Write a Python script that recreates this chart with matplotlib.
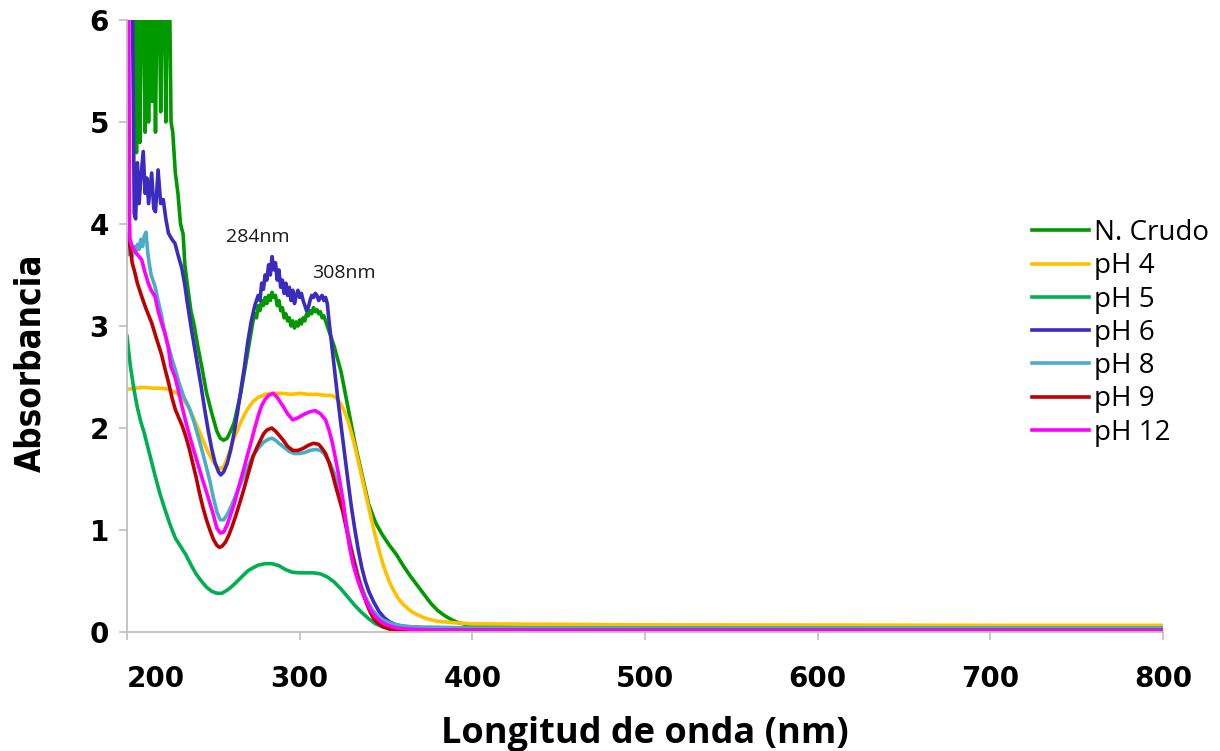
import matplotlib
matplotlib.use("Agg")
import matplotlib.pyplot as plt
import matplotlib.transforms as mtransforms

# Absorbance spectra (wavelength in nm, absorbance)
wl_crudo = [200, 204.5, 205.5, 206.5, 207.5, 208.5, 209.5, 210.5, 211.5, 212.5, 213.5, 214.5, 215.5,
            216.5, 217.5, 218.5, 219.5, 220.5, 221.5, 222.5, 223.5, 224.5, 225.5, 226.5, 228, 229.5,
            231, 232.5, 233.5, 235, 237, 239, 241, 243.3, 246, 249, 252, 254, 256, 258, 260, 262,
            264, 266, 268, 270, 272, 273, 274, 275, 276, 277, 278, 279, 280, 281, 282, 283, 284,
            285, 286, 287, 288, 289, 290, 291, 292, 293, 294, 295, 296, 297, 298, 299, 300, 301,
            302, 303, 304, 305, 306, 307, 308, 309, 310, 311, 312, 313, 314, 315, 316, 318, 320,
            324, 328, 332, 336, 340, 344, 348, 352, 356, 360, 364, 368, 372, 376, 380, 384, 388,
            392, 396, 400, 450, 500, 600, 700, 800]
abs_crudo = [6.5, 6.5, 4.7, 6.5, 4.8, 6.5, 6.5, 4.9, 6.5, 5.0, 6.5, 5.2, 6.5,
             4.9, 6.5, 6.5, 5.1, 6.5, 6.5, 5.0, 6.5, 6.5, 5.0, 4.9, 4.5, 4.3,
             4.0, 3.9, 3.6, 3.4, 3.15, 3.0, 2.8, 2.6, 2.35, 2.15, 1.97, 1.9, 1.88, 1.9, 1.97, 2.05,
             2.2, 2.35, 2.55, 2.75, 2.95, 3.05, 3.12, 3.08, 3.2, 3.15, 3.25, 3.2, 3.28, 3.22, 3.3, 3.25, 3.33,
             3.28, 3.3, 3.2, 3.25, 3.15, 3.18, 3.08, 3.12, 3.05, 3.08, 3.0, 3.05, 2.98, 3.04, 3.0, 3.06, 3.02,
             3.08, 3.05, 3.12, 3.1, 3.15, 3.12, 3.18, 3.14, 3.16, 3.12, 3.14, 3.08, 3.1, 3.05, 3.0, 2.9, 2.8,
             2.55, 2.2, 1.85, 1.55, 1.25, 1.07, 0.95, 0.85, 0.76, 0.65, 0.55, 0.46, 0.37, 0.28, 0.21, 0.16, 0.12,
             0.09, 0.075, 0.07, 0.06, 0.055, 0.05, 0.05, 0.05]

wl_ph4 = [200, 205, 210, 215, 220, 224, 228, 232, 235, 238, 241, 244, 247, 250, 252, 254, 256, 258,
          260, 262, 264, 266, 268, 270, 273, 276, 280, 285, 290, 295, 300, 305, 310, 315, 318, 320,
          322, 324, 326, 328, 330, 332, 334, 336, 338, 340, 342, 344, 346, 348, 350, 352, 354, 357,
          360, 364, 368, 372, 376, 380, 390, 400, 450, 500, 600, 700, 800]
abs_ph4 = [2.38, 2.39, 2.40, 2.39, 2.39, 2.38, 2.35, 2.30, 2.22, 2.12, 2.0, 1.88, 1.76, 1.67, 1.62, 1.60, 1.62, 1.7,
           1.8, 1.9, 1.98, 2.06, 2.13, 2.19, 2.26, 2.3, 2.33, 2.34, 2.34, 2.33, 2.34, 2.33, 2.33, 2.32, 2.32, 2.31,
           2.28, 2.23, 2.16, 2.07, 1.95, 1.82, 1.67, 1.52, 1.37, 1.22, 1.07, 0.93, 0.80, 0.68, 0.58, 0.49, 0.42, 0.33,
           0.27, 0.21, 0.17, 0.14, 0.12, 0.105, 0.09, 0.08, 0.075, 0.07, 0.068, 0.065, 0.065]

wl_ph5 = [200, 202, 204, 206, 208, 210, 213, 216, 219, 222, 225, 228, 231, 234, 237, 240, 243, 246, 249,
          252, 255, 258, 261, 264, 267, 270, 273, 276, 280, 284, 288, 292, 296, 300, 304, 308, 312, 316,
          320, 324, 328, 332, 336, 340, 344, 348, 352, 356, 360, 370, 400, 800]
abs_ph5 = [2.90, 2.6, 2.38, 2.2, 2.06, 1.95, 1.75, 1.55, 1.36, 1.2, 1.05, 0.92, 0.84, 0.76, 0.66, 0.57, 0.5, 0.44, 0.40,
           0.38, 0.38, 0.41, 0.45, 0.5, 0.55, 0.6, 0.63, 0.655, 0.67, 0.67, 0.65, 0.61, 0.585, 0.58, 0.58, 0.58, 0.57, 0.54,
           0.49, 0.42, 0.34, 0.26, 0.19, 0.13, 0.08, 0.05, 0.03, 0.015, 0.008, 0.006, 0.006, 0.006]

wl_ph6 = [200, 203, 204.2, 205, 206, 207, 208, 209.4, 210.5, 211.5, 212.5, 214.3, 215.5, 216.5, 218, 219.5,
          221, 222.5, 224, 226, 227.8, 229.5, 231.7, 233.5, 235, 237, 239, 241, 243, 245, 247, 249, 251,
          253, 254.3, 256, 258, 260, 262, 264, 266, 268, 270, 272, 274, 276, 277, 278, 279, 280, 281, 282,
          283, 284, 285, 286, 287, 288, 289, 290, 291, 292, 293, 294, 295, 296, 297, 298, 299, 300, 301,
          302, 303, 304, 305, 306, 307, 308, 309, 310, 311, 312, 313, 314, 315, 316, 317, 318, 320, 322,
          324, 326, 328, 330, 332, 334, 336, 338, 340, 343, 346, 349, 352, 356, 360, 370, 400, 800]
abs_ph6 = [6.5, 6.5, 4.1, 4.05, 4.6, 4.2, 4.45, 4.71, 4.3, 4.45, 4.2, 4.5, 4.15, 4.12, 4.53, 4.2,
           4.24, 4.05, 3.91, 3.85, 3.81, 3.7, 3.57, 3.4, 3.22, 3.0, 2.8, 2.6, 2.4, 2.18, 1.98, 1.8, 1.66,
           1.57, 1.54, 1.57, 1.65, 1.78, 1.95, 2.15, 2.38, 2.6, 2.85, 3.05, 3.2, 3.3, 3.25, 3.42, 3.36, 3.5, 3.45, 3.6,
           3.5, 3.68, 3.55, 3.62, 3.45, 3.55, 3.38, 3.45, 3.32, 3.42, 3.3, 3.38, 3.25, 3.35, 3.22, 3.3, 3.35, 3.28, 3.32,
           3.25, 3.2, 3.15, 3.18, 3.25, 3.3, 3.28, 3.32, 3.3, 3.25, 3.28, 3.3, 3.25, 3.28, 3.22, 3.05, 2.9, 2.6, 2.3,
           2.02, 1.75, 1.48, 1.22, 1.0, 0.8, 0.63, 0.5, 0.4, 0.29, 0.2, 0.14, 0.1, 0.07, 0.055, 0.045, 0.04, 0.035]

wl_ph8 = [200, 201, 202, 203, 204, 205, 206, 207, 208, 209, 210, 211, 212, 213, 214, 216.2, 218, 220,
          222, 224, 226, 228, 230, 233, 236, 239, 242, 245, 248, 250, 252, 254, 256, 258, 260, 262, 264,
          267, 270, 273, 276, 279, 282, 284, 286, 288, 291, 294, 297, 300, 303, 306, 309, 312, 314, 316,
          318, 320, 322, 324, 326, 328, 330, 332, 334, 336, 338, 340, 342, 345, 348, 352, 356, 362, 370,
          400, 800]
abs_ph8 = [3.75, 3.7, 3.85, 3.68, 3.78, 3.72, 3.8, 3.75, 3.85, 3.78, 3.88, 3.92, 3.72, 3.6, 3.5, 3.39, 3.25, 3.1,
           2.92, 2.8, 2.68, 2.57, 2.45, 2.3, 2.2, 2.05, 1.87, 1.68, 1.48, 1.32, 1.18, 1.1, 1.1, 1.15, 1.22, 1.3, 1.38,
           1.5, 1.62, 1.73, 1.8, 1.86, 1.89, 1.9, 1.88, 1.85, 1.81, 1.77, 1.75, 1.75, 1.76, 1.78, 1.79, 1.78, 1.75, 1.7,
           1.64, 1.56, 1.45, 1.32, 1.16, 0.98, 0.82, 0.68, 0.55, 0.44, 0.35, 0.28, 0.22, 0.16, 0.12, 0.09, 0.07, 0.055, 0.045,
           0.04, 0.04]

wl_ph9 = [200, 201, 202, 203, 204.6, 206, 208.5, 211, 214.3, 217, 220, 222, 224, 226, 228, 230, 232, 234,
          236, 238, 240, 242, 244, 246, 248, 250, 252, 253.5, 255, 257, 259, 261, 263, 265, 267, 269, 271,
          273, 275, 277, 279, 281, 283.8, 286, 288, 290.5, 293, 296, 299, 302, 305, 308, 311, 313, 315,
          317, 319, 321, 323, 325, 327, 329, 331, 333, 335, 337, 339, 341, 343, 345, 348, 352, 358, 370, 800]
abs_ph9 = [3.9, 3.85, 3.75, 3.62, 3.52, 3.42, 3.29, 3.17, 3.03, 2.88, 2.72, 2.58, 2.45, 2.3, 2.18, 2.1, 2.02, 1.92,
           1.8, 1.66, 1.52, 1.36, 1.22, 1.1, 1.0, 0.91, 0.85, 0.83, 0.84, 0.88, 0.95, 1.04, 1.14, 1.25, 1.36, 1.48, 1.6,
           1.72, 1.8, 1.87, 1.94, 1.98, 2.0, 1.97, 1.93, 1.88, 1.82, 1.78, 1.78, 1.8, 1.83, 1.85, 1.84, 1.8, 1.75,
           1.66, 1.55, 1.42, 1.3, 1.18, 1.02, 0.86, 0.72, 0.58, 0.46, 0.36, 0.27, 0.19, 0.13, 0.09, 0.055, 0.03, 0.018, 0.016, 0.016]

wl_ph12 = [200, 201, 201.4, 201.7, 203, 205, 207, 208.5, 210, 212.3, 214, 216.2, 218, 220, 222, 224,
           225.5, 227.8, 230, 232, 235, 238, 241, 244, 247, 250, 252, 254, 256, 258, 260, 262, 264, 266,
           268, 270, 272, 274, 276, 278, 280, 282, 284.7, 287, 290.5, 293, 296, 299, 302, 306, 309, 312,
           315, 317, 319, 321, 323, 325, 327, 329, 331, 333, 335, 337, 339, 341, 343, 345, 348, 352, 356,
           362, 375, 400, 800]
abs_ph12 = [6.5, 6.5, 4.1, 3.84, 3.78, 3.72, 3.68, 3.65, 3.55, 3.42, 3.35, 3.29, 3.15, 3.03, 2.93, 2.78,
            2.6, 2.5, 2.35, 2.2, 2.0, 1.82, 1.65, 1.48, 1.32, 1.15, 1.02, 0.97, 0.98, 1.05, 1.15, 1.25, 1.38, 1.5,
            1.62, 1.75, 1.87, 2.0, 2.12, 2.22, 2.28, 2.32, 2.34, 2.3, 2.21, 2.14, 2.08, 2.1, 2.13, 2.16, 2.17, 2.14,
            2.08, 1.98, 1.85, 1.68, 1.5, 1.3, 1.05, 0.82, 0.66, 0.54, 0.44, 0.36, 0.29, 0.22, 0.17, 0.13, 0.09, 0.06, 0.04,
            0.03, 0.02, 0.015, 0.012]

series_labels = ["N. Crudo", "pH 4", "pH 5", "pH 6", "pH 8", "pH 9", "pH 12"]
series_colors = ["#009900", "#FFC000", "#00B050", "#3B2BBF", "#4BACC6", "#C00000", "#FF00FF"]
series_wl = [wl_crudo, wl_ph4, wl_ph5, wl_ph6, wl_ph8, wl_ph9, wl_ph12]
series_abs = [abs_crudo, abs_ph4, abs_ph5, abs_ph6, abs_ph8, abs_ph9, abs_ph12]

peak_labels = ["284nm", "308nm"]
peak_label_pos = [(276, 3.87), (325.6, 3.52)]

x_ticks = [200, 300, 400, 500, 600, 700, 800]
y_ticks = [0, 1, 2, 3, 4, 5, 6]

fig = plt.figure(figsize=(12.2, 7.51), dpi=100)
ax = fig.add_axes([127 / 1220, 1 - 632 / 751, 1036 / 1220, 612 / 751])

for wl, ab, lab, col in zip(series_wl, series_abs, series_labels, series_colors):
    ax.plot(wl, ab, color=col, lw=2.6, label=lab, solid_joinstyle="round")

ax.set_xlim(200, 800)
ax.set_ylim(0, 6)
ax.set_xticks(x_ticks)
ax.set_yticks(y_ticks)

grey = "#BFBFBF"
for side in ("top", "right"):
    ax.spines[side].set_visible(False)
for side in ("left", "bottom"):
    ax.spines[side].set_color(grey)
    ax.spines[side].set_linewidth(1.3)

ax.tick_params(axis="both", colors=grey, length=6, width=1.2, direction="out")
ax.tick_params(axis="x", pad=18, labelcolor="black")
ax.tick_params(axis="y", pad=7, labelcolor="black")
for t in ax.get_xticklabels() + ax.get_yticklabels():
    t.set_fontfamily("DejaVu Sans")
    t.set_fontweight("bold")
    t.set_fontsize(20)

ax.set_xlabel("Longitud de onda (nm)", fontfamily="Open Sans", fontweight="bold",
              fontsize=26, va="center")
ax.xaxis.set_label_coords(0.5, -0.166)
ax.set_ylabel("Absorbancia", fontfamily="DejaVu Sans", fontstretch="condensed",
              fontweight="bold", fontsize=25, va="center")
ax.yaxis.set_label_coords(-0.093, 0.44)

for txt, (px, py) in zip(peak_labels, peak_label_pos):
    ax.text(px, py, txt, fontfamily="Open Sans", fontsize=14, ha="center", va="center",
            color="#1a1a1a")

leg = ax.legend(loc="upper left", bbox_to_anchor=(1032 / 1220, 1 - 219 / 751),
                bbox_transform=fig.transFigure, frameon=False,
                prop={"family": "Open Sans", "size": 20},
                handlelength=2.05, handletextpad=0.18, labelspacing=0.19,
                borderpad=0, borderaxespad=0)
for line in leg.get_lines():
    line.set_linewidth(2.6)

# the first wavelength label sits just right of the axis corner
fig.canvas.draw()
first = ax.xaxis.get_major_ticks()[0].label1
first.set_horizontalalignment("left")

fig.savefig("out.png", dpi=100, facecolor="white")
